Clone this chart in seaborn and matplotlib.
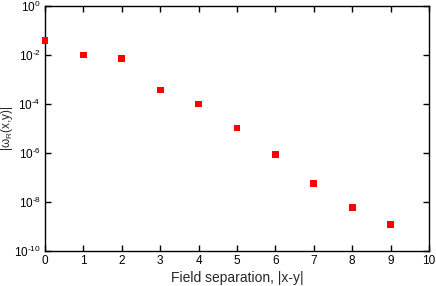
import numpy as np
import pandas as pd
import seaborn as sns
import matplotlib
matplotlib.use('Agg')
import matplotlib.pyplot as plt
from matplotlib.ticker import NullLocator, FixedLocator

# data
separation = [0, 1, 2, 3, 4, 5, 6, 7, 8, 9]
omega_r = [4.0e-2, 1.0e-2, 7.0e-3, 3.7e-4, 1.0e-4, 1.05e-5, 9.0e-7, 5.8e-8, 6.0e-9, 1.2e-9]
x_ticks = list(range(0, 11))
y_exponents = [-10, -8, -6, -4, -2, 0]

df = pd.DataFrame({'sep': separation, 'omega': omega_r})

sns.set_style('ticks')
plt.rcParams['font.family'] = ['Liberation Sans', 'DejaVu Sans']
plt.rcParams['mathtext.fontset'] = 'custom'
plt.rcParams['mathtext.rm'] = 'Liberation Sans'
plt.rcParams['mathtext.it'] = 'Liberation Sans'
plt.rcParams['mathtext.default'] = 'regular'

fig = plt.figure(figsize=(4.36, 2.86), dpi=100)
ax = fig.add_axes([45 / 436, 35 / 286, 384 / 436, 245 / 286])

sns.scatterplot(data=df, x='sep', y='omega', ax=ax, marker='s', s=24,
                color='#ff0000', edgecolor='none', linewidth=0,
                clip_on=False, zorder=3)

ax.set_yscale('log')
ax.set_xlim(0, 10)
ax.set_ylim(1e-10, 1e0)
ax.xaxis.set_major_locator(FixedLocator(x_ticks))
ax.yaxis.set_major_locator(FixedLocator([10.0 ** e for e in y_exponents]))
ax.yaxis.set_minor_locator(NullLocator())
# hyphen instead of a long minus, like the original
ax.set_yticklabels([r'10$^{\text{%d}}$' % e for e in y_exponents])

for s in ax.spines.values():
    s.set_visible(True)
    s.set_linewidth(1.0)
    s.set_color('black')
ax.tick_params(direction='in', which='both', top=True, right=True, length=4,
               width=1.0, labelsize=8.5, colors='black', pad=3)

ax.set_xlabel('Field separation, |x-y|', fontsize=10, labelpad=3)
ax.set_ylabel(r'|ω$_R$(x,y)|', fontsize=8.5)
ax.yaxis.set_label_coords(-0.078, 0.5)

fig.savefig('out.png', dpi=100)
